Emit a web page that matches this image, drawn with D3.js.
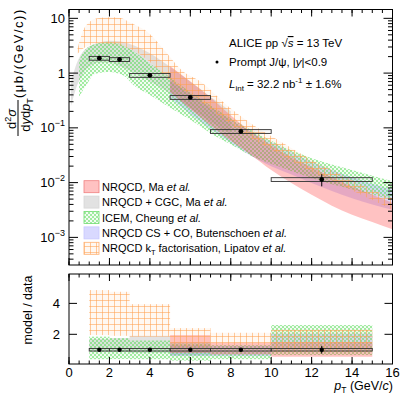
<!DOCTYPE html>
<head>
<meta charset="utf-8">
<script src="https://d3js.org/d3.v7.min.js"></script>
<style>
body { margin: 0; background: #fff; }
text { font-family: "Liberation Sans", Arial, sans-serif; fill: #000; }
.frame { fill: none; stroke: #000; stroke-width: 1; }
</style>
</head>
<body>
<div id="container"></div>
<script>
// ---------------- data ----------------
const ptEdges   = [1, 2, 3, 5, 7, 10, 15];
const ptCenters = [1.5, 2.5, 4, 6, 8.5, 12.5];
const xsec      = [1.87, 1.77, 0.91, 0.36, 0.086, 0.0114];
const statRel   = [0.03, 0.04, 0.04, 0.05, 0.08, 0.25];
const sysRel    = [0.08, 0.08, 0.08, 0.08, 0.08, 0.08];

// theory bands, top panel
const cgcPt = [0.1, 0.35, 0.6, 1, 1.5, 2, 2.5, 3, 4, 5, 6, 7, 8];
const cgcHi = [0.7, 1.4, 2.2, 3.1, 3.6, 3.9, 3.8, 3.4, 2.3, 1.3, 0.7, 0.37, 0.2];
const cgcLo = [0.25, 0.53, 0.85, 1.3, 1.55, 1.55, 1.35, 1.1, 0.7, 0.42, 0.23, 0.13, 0.075];

const icemPt = [0.5, 0.85, 1.3, 2, 2.7, 3.2, 4, 4.8, 6, 7, 8, 9, 10.5, 12, 14, 16];
const icemHi = [1.7, 2.8, 3.4, 3.7, 3.2, 2.5, 1.5, 0.95, 0.45, 0.26, 0.15, 0.092, 0.047, 0.028, 0.017, 0.0106];
const icemLo = [0.37, 0.6, 0.97, 1.05, 0.9, 0.6, 0.4, 0.26, 0.14, 0.08, 0.05, 0.031, 0.019, 0.012, 0.0075, 0.0049];

const bkPt = [5, 6, 7, 8, 9, 10, 11, 12, 13, 14, 15, 16];
const bkHi = [0.75, 0.42, 0.24, 0.14, 0.085, 0.055, 0.036, 0.024, 0.017, 0.0125, 0.0095, 0.0075];
const bkLo = [0.35, 0.18, 0.095, 0.053, 0.031, 0.02, 0.014, 0.0098, 0.007, 0.0052, 0.004, 0.0032];

const maPt = [5, 6, 7, 8, 9, 10, 11, 12, 13, 14, 15, 16];
const maHi = [1.35, 0.7, 0.36, 0.17, 0.085, 0.048, 0.029, 0.019, 0.0125, 0.0085, 0.006, 0.0043];
const maLo = [0.45, 0.22, 0.11, 0.058, 0.032, 0.017, 0.0098, 0.006, 0.0038, 0.0026, 0.0019, 0.0014];

const ktPt = [0.4, 0.7, 1, 1.4, 2, 2.5, 3.1, 4, 4.8, 5.6, 6.5, 7.8, 9, 10.5, 12, 13, 14, 15, 16];
const ktHi = [2.6, 6, 8.5, 10, 10.5, 10.3, 8.1, 5.2, 2.4, 1.1, 0.7, 0.26, 0.12, 0.055, 0.026, 0.017, 0.011, 0.0075, 0.0052];
const ktLo = [2.2, 2.8, 3.2, 3.5, 3.4, 3.2, 2.7, 1.6, 0.85, 0.5, 0.3, 0.13, 0.065, 0.032, 0.016, 0.011, 0.0072, 0.0048, 0.0032];

// model / data per pT bin
const cgcRatioLo  = [0.85, 0.85, 0.8, 0.65, null, null];
const cgcRatioHi  = [1.7, 1.75, 1.9, 1.5, null, null];
const icemRatioLo = [0.39, 0.4, 0.39, 0.3, 0.39, 0.66];
const icemRatioHi = [1.85, 1.75, 1.6, 1.4, 1.3, 2.6];
const bkRatioLo   = [null, null, null, 0.6, 0.6, 0.95];
const bkRatioHi   = [null, null, null, 1.3, 1.25, 2.05];
const maRatioLo   = [null, null, null, 0.8, 0.7, 0.55];
const maRatioHi   = [null, null, null, 1.95, 1.45, 1.5];
const ktRatioLo   = [1.95, 1.9, 1.85, 1.15, 1.3, 0.85];
const ktRatioHi   = [4.86, 4.75, 3.95, 2.4, 2.1, 2.3];

const logTicks = [1e-3, 1e-2, 1e-1, 1, 10];
const logLabels = [["10", "\u22123"], ["10", "\u22122"], ["10", "\u22121"], ["1", null], ["10", null]];
const xTicks = [0, 2, 4, 6, 8, 10, 12, 14, 16];
const ratioTicks = [2, 4];

// ---------------- setup ----------------
const width = 407, height = 398;
const svg = d3.select("#container").append("svg")
    .attr("width", width).attr("height", height);

const L = 69, R = 392.5;
const top1 = 9.5, bot1 = 265, top2 = 274, bot2 = 364;

const x = d3.scaleLinear().domain([0, 16]).range([L, R]);
const y = d3.scaleLog().domain([3.13e-4, 14.5]).range([bot1, top1]);
const yr = d3.scaleLinear().domain([0.08, 5.9]).range([bot2, top2]);

// patterns
const defs = svg.append("defs");
const pg = defs.append("pattern").attr("id", "chk")
    .attr("patternUnits", "userSpaceOnUse").attr("width", 4).attr("height", 4);
pg.append("rect").attr("width", 4).attr("height", 4).attr("fill", "rgba(140,230,140,0.1)");
pg.append("rect").attr("width", 2).attr("height", 2).attr("fill", "rgba(80,220,80,0.5)");
pg.append("rect").attr("x", 2).attr("y", 2).attr("width", 2).attr("height", 2).attr("fill", "rgba(80,220,80,0.5)");

const po = defs.append("pattern").attr("id", "grid")
    .attr("patternUnits", "userSpaceOnUse").attr("width", 6).attr("height", 6);
po.append("rect").attr("width", 6).attr("height", 6).attr("fill", "rgba(255,190,130,0.1)");
po.append("path").attr("d", "M0.5,0V6M0,0.5H6")
    .attr("stroke", "rgba(255,160,80,0.55)").attr("stroke-width", 1).attr("fill", "none");

defs.append("clipPath").attr("id", "clipTop").append("rect")
    .attr("x", L).attr("y", top1).attr("width", R - L).attr("height", bot1 - top1);
defs.append("clipPath").attr("id", "clipBot").append("rect")
    .attr("x", L).attr("y", top2).attr("width", R - L).attr("height", bot2 - top2);

const models = [
  {name: "cgc",  pt: cgcPt,  lo: cgcLo,  hi: cgcHi,  rlo: cgcRatioLo,  rhi: cgcRatioHi,  fill: "rgba(190,190,190,0.45)"},
  {name: "bk",   pt: bkPt,   lo: bkLo,   hi: bkHi,   rlo: bkRatioLo,   rhi: bkRatioHi,   fill: "rgba(120,120,255,0.28)"},
  {name: "icem", pt: icemPt, lo: icemLo, hi: icemHi, rlo: icemRatioLo, rhi: icemRatioHi, fill: "url(#chk)"},
  {name: "ma",   pt: maPt,   lo: maLo,   hi: maHi,   rlo: maRatioLo,   rhi: maRatioHi,   fill: "rgba(255,70,70,0.33)"},
  {name: "kt",   pt: ktPt,   lo: ktLo,   hi: ktHi,   rlo: ktRatioLo,   rhi: ktRatioHi,   fill: "url(#grid)"}
];

// ---------------- top panel bands ----------------
const band = d3.area()
    .x(d => x(d.pt)).y0(d => y(d.lo)).y1(d => y(d.hi))
    .curve(d3.curveMonotoneX);

const gTop = svg.append("g").attr("clip-path", "url(#clipTop)");
models.forEach(m => {
  const pts = m.pt.map((p, i) => ({pt: p, lo: m.lo[i], hi: m.hi[i]}));
  gTop.append("path").attr("d", band(pts)).attr("fill", m.fill);
});

// data points top
const pts = ptCenters.map((c, i) => ({c: c, v: xsec[i], lo: ptEdges[i], hi: ptEdges[i + 1], s: statRel[i], sy: sysRel[i]}));
gTop.selectAll(".sys").data(pts).enter().append("rect")
    .attr("x", d => x(d.lo)).attr("width", d => x(d.hi) - x(d.lo))
    .attr("y", d => y(d.v * (1 + d.sy))).attr("height", d => y(d.v * (1 - d.sy)) - y(d.v * (1 + d.sy)))
    .attr("fill", "rgba(200,200,200,0.15)").attr("stroke", "#333").attr("stroke-width", 0.9);
gTop.selectAll(".stat").data(pts).enter().append("line")
    .attr("x1", d => x(d.c)).attr("x2", d => x(d.c))
    .attr("y1", d => y(d.v * (1 + d.s))).attr("y2", d => y(d.v * (1 - d.s)))
    .attr("stroke", "#000");
gTop.selectAll(".pt").data(pts).enter().append("circle")
    .attr("cx", d => x(d.c)).attr("cy", d => y(d.v)).attr("r", 2.4).attr("fill", "#000");

// ---------------- bottom panel ----------------
const gBot = svg.append("g").attr("clip-path", "url(#clipBot)");
models.forEach(m => {
  const bins = m.rlo.map((lo, i) => ({lo: lo, hi: m.rhi[i], a: ptEdges[i], b: ptEdges[i + 1]}))
      .filter(d => d.lo !== null);
  gBot.selectAll(".r" + m.name).data(bins).enter().append("rect")
      .attr("x", d => x(d.a)).attr("width", d => x(d.b) - x(d.a))
      .attr("y", d => yr(d.hi)).attr("height", d => yr(d.lo) - yr(d.hi))
      .attr("fill", m.fill);
});
gBot.selectAll(".rsys").data(pts).enter().append("rect")
    .attr("x", d => x(d.lo)).attr("width", d => x(d.hi) - x(d.lo))
    .attr("y", d => yr(1 + d.sy)).attr("height", d => yr(1 - d.sy) - yr(1 + d.sy))
    .attr("fill", "rgba(200,200,200,0.15)").attr("stroke", "#333").attr("stroke-width", 0.9);
gBot.selectAll(".rstat").data(pts).enter().append("line")
    .attr("x1", d => x(d.c)).attr("x2", d => x(d.c))
    .attr("y1", d => yr(1 + d.s)).attr("y2", d => yr(1 - d.s))
    .attr("stroke", "#000");
gBot.selectAll(".rpt").data(pts).enter().append("circle")
    .attr("cx", d => x(d.c)).attr("cy", yr(1)).attr("r", 2.2).attr("fill", "#000");

// ---------------- axes ----------------
const minorX = d3.range(0, 16.01, 0.5);
const minorLog = [];
for (let e = -4; e <= 1; e++) for (let k = 2; k <= 9; k++) {
  const v = k * Math.pow(10, e);
  if (v > y.domain()[0] && v < y.domain()[1]) minorLog.push(v);
}

function ticks(g, scale, vals, len, pos, orient) {
  g.selectAll(null).data(vals).enter().append("line")
    .attr("stroke", "#000").attr("stroke-width", 1)
    .each(function(v) {
      const s = d3.select(this);
      if (orient === "x") s.attr("x1", scale(v)).attr("x2", scale(v)).attr("y1", pos).attr("y2", pos + len);
      else s.attr("y1", scale(v)).attr("y2", scale(v)).attr("x1", pos).attr("x2", pos + len);
    });
}
const ax = svg.append("g");
// top panel
ticks(ax, x, minorX, 3.5, top1, "x");
ticks(ax, x, xTicks, 7, top1, "x");
ticks(ax, x, minorX, -3.5, bot1, "x");
ticks(ax, x, xTicks, -7, bot1, "x");
ticks(ax, y, minorLog, 4.5, L, "y");
ticks(ax, y, logTicks, 9, L, "y");
ticks(ax, y, minorLog, -4.5, R, "y");
ticks(ax, y, logTicks, -9, R, "y");
// bottom panel
ticks(ax, x, minorX, 3.5, top2, "x");
ticks(ax, x, xTicks, 7, top2, "x");
ticks(ax, x, minorX, -3.5, bot2, "x");
ticks(ax, x, xTicks, -7, bot2, "x");
ticks(ax, yr, ratioTicks, 8, L, "y");
ticks(ax, yr, ratioTicks, -8, R, "y");

svg.append("rect").attr("class", "frame").attr("x", L).attr("y", top1).attr("width", R - L).attr("height", bot1 - top1);
svg.append("rect").attr("class", "frame").attr("x", L).attr("y", top2).attr("width", R - L).attr("height", bot2 - top2);

// tick labels
logTicks.forEach((v, i) => {
  const t = svg.append("text").attr("x", L - 4).attr("y", y(v) + 4.5)
      .attr("text-anchor", "end").style("font-size", "13px");
  t.append("tspan").text(logLabels[i][0]);
  if (logLabels[i][1]) t.append("tspan").attr("dy", -6).style("font-size", "9px").text(logLabels[i][1]);
});
ratioTicks.forEach(v => {
  svg.append("text").attr("x", L - 9).attr("y", yr(v) + 4.5)
      .attr("text-anchor", "end").style("font-size", "13px").text(v);
});
xTicks.forEach(v => {
  svg.append("text").attr("x", x(v)).attr("y", 377)
      .attr("text-anchor", "middle").style("font-size", "13px").text(v);
});

// axis titles
const xt = svg.append("text").attr("x", 393).attr("y", 390).attr("text-anchor", "end").style("font-size", "12.5px");
xt.append("tspan").style("font-style", "italic").text("p");
xt.append("tspan").attr("dy", 3).style("font-size", "8.5px").text("T");
xt.append("tspan").attr("dy", -3).text(" (GeV/");
xt.append("tspan").style("font-style", "italic").text("c");
xt.append("tspan").text(")");

svg.append("text").attr("transform", "translate(32,310) rotate(-90)")
    .attr("text-anchor", "middle").style("font-size", "12.5px").text("model / data");

const num = svg.append("text").attr("transform", "translate(16,119) rotate(-90)")
    .attr("text-anchor", "middle").style("font-size", "13px");
num.append("tspan").text("d");
num.append("tspan").attr("dy", -5).style("font-size", "9px").text("2");
num.append("tspan").attr("dy", 5).style("font-style", "italic").text("\u03c3");
svg.append("line").attr("x1", 18).attr("x2", 18).attr("y1", 100).attr("y2", 136).attr("stroke", "#000");
const den = svg.append("text").attr("transform", "translate(30,115) rotate(-90)")
    .attr("text-anchor", "middle").style("font-size", "13px");
den.append("tspan").text("d");
den.append("tspan").style("font-style", "italic").text("y");
den.append("tspan").text("d");
den.append("tspan").style("font-style", "italic").text("p");
den.append("tspan").attr("dy", 3).style("font-size", "9px").text("T");
svg.append("text").attr("transform", "translate(23,98) rotate(-90)")
    .attr("text-anchor", "start").style("font-size", "13px").style("letter-spacing", "1.5px")
    .text("(\u03bcb/(GeV/c))");

// header text
const h1 = svg.append("text").attr("x", 229).attr("y", 47).style("font-size", "11.5px");
h1.append("tspan").text("ALICE pp \u221a");
h1.append("tspan").style("font-style", "italic").style("text-decoration", "overline").text("s");
h1.append("tspan").text(" = 13 TeV");
svg.append("circle").attr("cx", 217).attr("cy", 62).attr("r", 1.5).attr("fill", "#000");
const h2 = svg.append("text").attr("x", 229).attr("y", 66).style("font-size", "11.5px");
h2.append("tspan").text("Prompt J/\u03c8, |");
h2.append("tspan").style("font-style", "italic").text("y");
h2.append("tspan").text("|<0.9");
const h3 = svg.append("text").attr("x", 229).attr("y", 88).style("font-size", "11.5px");
h3.append("tspan").style("font-style", "italic").text("L");
h3.append("tspan").attr("dy", 3).style("font-size", "8px").text("int");
h3.append("tspan").attr("dy", -3).text(" = 32.2 nb");
h3.append("tspan").attr("dy", -5).style("font-size", "8px").text("-1");
h3.append("tspan").attr("dy", 5).text(" \u00b1 1.6%");

// legend
const legend = [
  {fill: "rgba(255,70,70,0.33)", stroke: "#f08080", parts: [["NRQCD, Ma ", 0], ["et al.", 1]]},
  {fill: "rgba(190,190,190,0.45)", stroke: "#d8d8d8", parts: [["NRQCD + CGC, Ma ", 0], ["et al.", 1]]},
  {fill: "url(#chk)", stroke: "#6fdc6f", parts: [["ICEM, Cheung ", 0], ["et al.", 1]]},
  {fill: "rgba(120,120,255,0.28)", stroke: "#c8c8ff", parts: [["NRQCD CS + CO, Butenschoen ", 0], ["et al.", 1]]},
  {fill: "url(#grid)", stroke: "#ffb070", parts: [["NRQCD k", 0], ["T", 2], [" factorisation, Lipatov ", 3], ["et al.", 1]]}
];
legend.forEach((d, i) => {
  const cy = 186.7 + i * 15.4;
  svg.append("rect").attr("x", 84).attr("y", cy - 6).attr("width", 15).attr("height", 12)
      .attr("fill", d.fill).attr("stroke", d.stroke).attr("stroke-width", 0.8);
  const t = svg.append("text").attr("x", 102).attr("y", cy + 4).style("font-size", "11px");
  d.parts.forEach(p => {
    const s = t.append("tspan").text(p[0]);
    if (p[1] === 1) s.style("font-style", "italic");
    if (p[1] === 2) s.attr("dy", 3).style("font-size", "7.5px");
    if (p[1] === 3) s.attr("dy", -3);
  });
});
</script>
</body>
